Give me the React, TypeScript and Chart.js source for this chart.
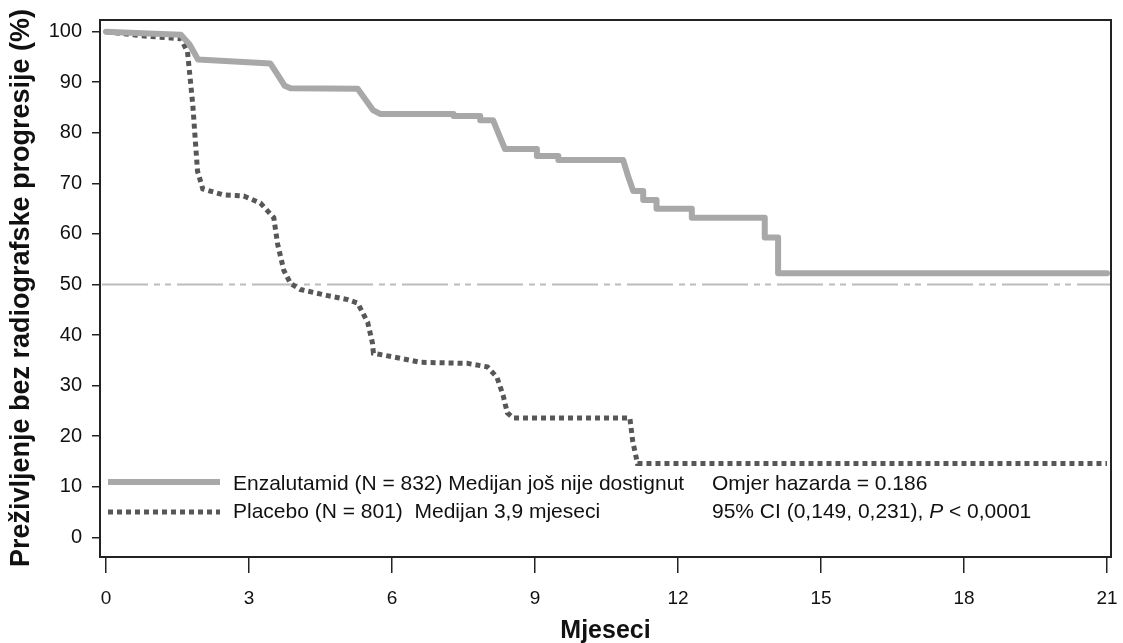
import React, { useEffect, useRef } from "react";
import { Chart, registerables } from "chart.js";

Chart.register(...registerables);

// ---- Data ----
const enzaMonths = [0, 0.5, 1.57, 1.75, 1.93, 2.5, 3.45, 3.6, 3.75, 3.87, 5.28, 5.45, 5.6, 5.76, 7.29, 7.29, 7.85, 7.85, 8.12, 8.25, 8.37, 9.04, 9.04, 9.49, 9.49, 10.85, 10.95, 11.06, 11.27, 11.27, 11.55, 11.55, 12.29, 12.29, 13.82, 13.82, 14.1, 14.1, 21];
const enzaSurvival = [100, 99.8, 99.4, 97.5, 94.5, 94.2, 93.7, 91.5, 89.3, 88.8, 88.7, 86.5, 84.5, 83.7, 83.7, 83.3, 83.3, 82.5, 82.5, 79.5, 76.8, 76.8, 75.4, 75.4, 74.6, 74.6, 71.5, 68.5, 68.5, 66.7, 66.7, 65, 65, 63.2, 63.2, 59.3, 59.3, 52.2, 52.2];

const placeboMonths = [0, 0.73, 1.57, 1.71, 1.82, 1.92, 2.03, 2.47, 2.89, 3.24, 3.52, 3.6, 3.73, 3.87, 4.08, 4.65, 5.07, 5.28, 5.49, 5.59, 5.61, 6.18, 6.6, 7.58, 8.0, 8.2, 8.33, 8.42, 8.54, 10.99, 11.05, 11.15, 21];
const placeboSurvival = [100, 99.2, 98.6, 96, 85.6, 72.4, 68.9, 67.7, 67.5, 66.1, 63.2, 58, 52.8, 50.2, 49, 47.8, 47, 46.3, 42.5, 38.4, 36.4, 35.4, 34.6, 34.4, 33.7, 31.7, 28.1, 24.6, 23.6, 23.6, 19, 14.6, 14.6];

const xTicks = [0, 3, 6, 9, 12, 15, 18, 21];
const yTicks = [0, 10, 20, 30, 40, 50, 60, 70, 80, 90, 100];
const medianLine = 50;

const seriesLabels = [
  "Enzalutamid (N = 832) Medijan još nije dostignut",
  "Placebo (N = 801)  Medijan 3,9 mjeseci",
];
const statsLine1 = "Omjer hazarda = 0.186";
const statsLine2Parts = ["95% CI (0,149, 0,231), ", "P", " < 0,0001"];
const yTitle = "Preživljenje bez radiografske progresije (%)";
const xTitle = "Mjeseci";

const FONT = "'Liberation Sans', Arial, sans-serif";
const ENZA_COLOR = "#a8a8a8";
const PLACEBO_COLOR = "#575757";

const decorPlugin = {
  id: "decor",
  beforeDatasetsDraw(chart: any) {
    const { ctx, chartArea, scales } = chart;
    const y = scales.y.getPixelForValue(medianLine);
    ctx.save();
    ctx.strokeStyle = "#bcbcbc";
    ctx.lineWidth = 2;
    ctx.setLineDash([46, 6, 6, 5, 6, 6]);
    ctx.beginPath();
    ctx.moveTo(chartArea.left + 2, y);
    ctx.lineTo(chartArea.right, y);
    ctx.stroke();
    ctx.restore();
  },
  afterDraw(chart: any) {
    const { ctx, chartArea } = chart;
    ctx.save();
    // frame
    ctx.strokeStyle = "#222";
    ctx.lineWidth = 2;
    ctx.setLineDash([]);
    ctx.strokeRect(chartArea.left, chartArea.top, chartArea.right - chartArea.left, chartArea.bottom - chartArea.top);

    // legend
    ctx.lineCap = "butt";
    ctx.strokeStyle = ENZA_COLOR;
    ctx.lineWidth = 6;
    ctx.beginPath();
    ctx.moveTo(108, 482);
    ctx.lineTo(220, 482);
    ctx.stroke();
    ctx.strokeStyle = PLACEBO_COLOR;
    ctx.lineWidth = 5;
    ctx.setLineDash([5, 4]);
    ctx.beginPath();
    ctx.moveTo(108, 512);
    ctx.lineTo(220, 512);
    ctx.stroke();
    ctx.setLineDash([]);

    ctx.fillStyle = "#111";
    ctx.font = `21px ${FONT}`;
    ctx.textBaseline = "middle";
    ctx.textAlign = "left";
    ctx.fillText(seriesLabels[0], 233, 484);
    ctx.fillText(seriesLabels[1], 233, 512);
    ctx.fillText(statsLine1, 712, 484);
    let x = 712;
    ctx.fillText(statsLine2Parts[0], x, 512);
    x += ctx.measureText(statsLine2Parts[0]).width;
    ctx.font = `italic 21px ${FONT}`;
    ctx.fillText(statsLine2Parts[1], x, 512);
    x += ctx.measureText(statsLine2Parts[1]).width;
    ctx.font = `21px ${FONT}`;
    ctx.fillText(statsLine2Parts[2], x, 512);

    // axis titles
    ctx.font = `bold 25px ${FONT}`;
    ctx.textAlign = "center";
    ctx.fillText(xTitle, (chartArea.left + chartArea.right) / 2, 631);
    ctx.translate(22, 288);
    ctx.rotate(-Math.PI / 2);
    ctx.font = `bold 27px ${FONT}`;
    ctx.fillText(yTitle, 0, 0);
    ctx.restore();
  },
};

export default function App() {
  const canvasRef = useRef<HTMLCanvasElement | null>(null);

  useEffect(() => {
    const canvas = canvasRef.current;
    if (!canvas) return;
    const chart = new Chart(canvas, {
      type: "line",
      data: {
        datasets: [
          {
            label: seriesLabels[0],
            data: enzaMonths.map((m, i) => ({ x: m, y: enzaSurvival[i] })),
            borderColor: ENZA_COLOR,
            borderWidth: 6,
            pointRadius: 0,
            tension: 0,
            borderJoinStyle: "round",
            borderCapStyle: "round",
          },
          {
            label: seriesLabels[1],
            data: placeboMonths.map((m, i) => ({ x: m, y: placeboSurvival[i] })),
            borderColor: PLACEBO_COLOR,
            borderWidth: 5,
            borderDash: [5, 4],
            pointRadius: 0,
            tension: 0,
          },
        ],
      },
      options: {
        animation: false,
        responsive: false,
        devicePixelRatio: 1,
        layout: { padding: { top: 20, right: 12, left: 0, bottom: 0 } },
        plugins: { legend: { display: false }, tooltip: { enabled: false } },
        scales: {
          x: {
            type: "linear",
            min: -0.126,
            max: 21.084,
            afterBuildTicks: (s: any) => {
              s.ticks = xTicks.map((v) => ({ value: v }));
            },
            afterFit: (s: any) => {
              s.height = 86;
              s.paddingLeft = 0;
              s.paddingRight = 0;
            },
            grid: { drawOnChartArea: false, drawTicks: true, tickLength: 16, color: "#222", lineWidth: 1.5 },
            border: { display: true, color: "#222", width: 2 },
            ticks: { color: "#111", font: { family: FONT, size: 19 }, padding: 14, maxRotation: 0 },
          },
          y: {
            type: "linear",
            min: -3.9,
            max: 102.31,
            afterBuildTicks: (s: any) => {
              s.ticks = yTicks.map((v) => ({ value: v }));
            },
            afterFit: (s: any) => {
              s.width = 100;
              s.paddingTop = 0;
              s.paddingBottom = 0;
            },
            grid: { drawOnChartArea: false, drawTicks: true, tickLength: 8, color: "#222", lineWidth: 1.5 },
            border: { display: true, color: "#222", width: 2 },
            ticks: { color: "#111", font: { family: FONT, size: 20 }, padding: 10 },
          },
        },
      },
      plugins: [decorPlugin],
    } as any);
    return () => chart.destroy();
  }, []);

  return (
    <div style={{ position: "fixed", left: 0, top: 0, width: 1123, height: 643, background: "#fff" }}>
      <canvas ref={canvasRef} width={1123} height={643} />
    </div>
  );
}
